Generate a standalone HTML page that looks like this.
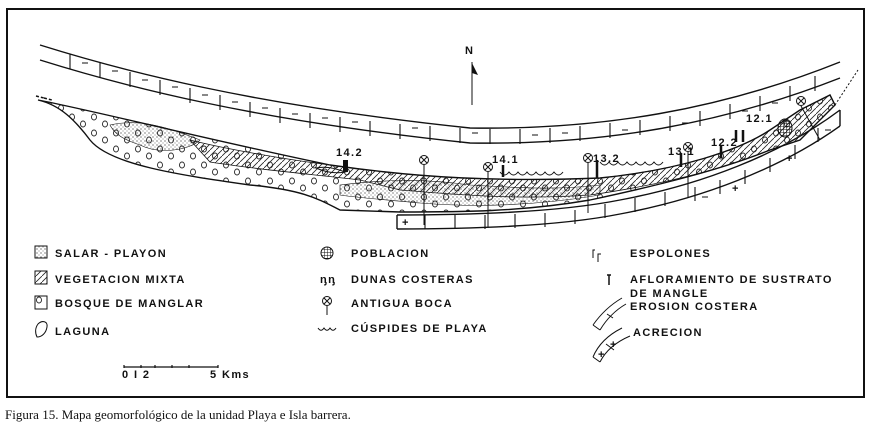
<!DOCTYPE html>
<html><head><meta charset="utf-8"><style>
html,body{margin:0;padding:0;background:#fff;width:871px;height:429px;overflow:hidden}
svg{position:absolute;left:0;top:0}
.t{font-family:"Liberation Sans",sans-serif;font-weight:bold;font-size:11px;letter-spacing:1.4px;fill:#111}
.c{font-family:"Liberation Serif",serif;font-size:13px;fill:#111}
</style></head><body>
<svg width="871" height="429" viewBox="0 0 871 429">
<defs>
<pattern id="hatch" width="6" height="6" patternUnits="userSpaceOnUse"><path d="M0 6L6 0" stroke="#222" stroke-width="0.8"/></pattern>
<pattern id="dots" width="4" height="4" patternUnits="userSpaceOnUse"><circle cx="1" cy="1" r="0.6" fill="#333"/><circle cx="3" cy="3" r="0.5" fill="#555"/></pattern>
<pattern id="circ" width="22" height="16" patternUnits="userSpaceOnUse"><ellipse cx="6" cy="5" rx="2.5" ry="3" fill="none" stroke="#222" stroke-width="0.9"/><ellipse cx="17" cy="12" rx="2.5" ry="3" fill="none" stroke="#222" stroke-width="0.9"/></pattern>
<pattern id="grid" width="3" height="3" patternUnits="userSpaceOnUse"><path d="M0 0H3M0 0V3" stroke="#111" stroke-width="1"/></pattern>
</defs>
<rect x="7" y="9" width="857" height="388" fill="none" stroke="#111" stroke-width="2"/>
<text x="465" y="54" class="t" font-size="12" letter-spacing="0">N</text>
<line x1="472" y1="62" x2="472" y2="105" stroke="#111" stroke-width="1"/>
<path d="M472 63L478 75L472 73Z" fill="#111"/>
<g fill="none" stroke="#111" stroke-width="1.4">
<path d="M40 45 C120 70 250 105 470 128 C600 130 720 110 840 62"/>
<path d="M40 60 C120 85 250 120 470 143 C600 145 720 125 840 78"/>
</g>
<g stroke="#111" stroke-width="1.1">
<path d="M70 54v15M100 63v15M130 72v15M160 80v15M190 88v15M220 95v15M250 102v15M280 108v15M310 113v15M340 117v15M370 121v15M400 124v15M430 126v15M460 128v15M490 129v15M520 129v15M550 128v15M580 126v15M610 123v15M640 120v15M670 116v15M700 111v15M730 104v15M760 96v15M790 86v15M815 76v15"/>
<path d="M82 63h6M112 71h6M142 80h6M172 87h6M202 95h6M232 102h6M262 108h6M292 114h6M322 118h6M352 122h6M412 128h6M472 133h6M532 135h6M562 133h6M622 130h6M682 123h6M742 111h6M772 103h6"/>
</g>
<g fill="none" stroke="#111" stroke-width="1.4">
<path d="M397 215 C470 215 560 212 620 200 C700 185 780 155 840 110"/>
<path d="M397 229 C470 229 560 226 620 214 C700 199 780 169 840 126"/>
<path d="M397 215v14M840 110v16"/>
</g>
<g stroke="#111" stroke-width="1.1">
<path d="M425 215v14M455 215v14M485 215v14M515 214v14M545 213v14M575 210v14M605 204v14M635 198v14M665 192v14M695 187v14M720 180v14M745 170v14M770 158v14M795 145v14M818 128v14"/>
</g>
<text x="402" y="226" class="t" font-size="10">+</text>
<text x="732" y="192" class="t" font-size="10">+</text>
<text x="786" y="162" class="t" font-size="10">+</text>
<path d="M702 197h6M825 130h6" stroke="#111"/>
<path d="M38 100 C100 112 200 138 330 165 C420 178 500 182 600 178 C680 170 740 150 770 130 L800 110 L830 95 L835 105 L800 140 L770 150 C720 170 660 185 590 200 C520 212 460 212 400 212 L340 210 C320 200 305 190 250 185 C180 175 110 165 90 140 C75 120 60 105 38 100Z" fill="url(#circ)" stroke="#111" stroke-width="1.4"/>
<path d="M190 140 C230 150 290 160 330 165 C420 178 500 182 600 178 C680 170 740 150 770 130 L800 110 L830 95 L835 105 L800 140 L770 150 C720 170 660 185 590 195 C520 200 460 195 400 190 L360 180 C320 175 260 170 210 162Z" fill="url(#hatch)" stroke="#111" stroke-width="0.8"/>
<path d="M340 185 C380 180 420 178 470 185 C520 188 560 190 600 185 L600 195 C540 205 480 208 420 203 C390 200 360 198 340 195Z" fill="url(#dots)" stroke="#111" stroke-width="0.6"/>
<path d="M110 125 C140 118 170 128 200 140 C190 150 160 155 140 145 C125 140 115 135 110 125Z" fill="url(#dots)" stroke="#111" stroke-width="0.6"/>
<path d="M36 96l8 2M44 98l8 2" stroke="#111" stroke-width="1.5" stroke-dasharray="3 2"/>
<path d="M835 105 L858 70" stroke="#111" stroke-dasharray="2 2"/>
<ellipse cx="785" cy="128" rx="7" ry="9" fill="url(#grid)" stroke="#111"/>
<path d="M316 168 C325 172 335 174 345 172 C335 168 325 166 316 168Z" fill="none" stroke="#111"/>
<rect x="343" y="160" width="5" height="12" fill="#111"/>
<g fill="none" stroke="#111" stroke-width="1">
<circle cx="424" cy="160" r="4.5"/><path d="M421 157l6 6M427 157l-6 6M424 165v60"/>
<circle cx="488" cy="167" r="4.5"/><path d="M485 164l6 6M491 164l-6 6M488 172v55"/>
<circle cx="588" cy="158" r="4.5"/><path d="M585 155l6 6M591 155l-6 6M588 163v50"/>
<circle cx="688" cy="147" r="4.5"/><path d="M685 144l6 6M691 144l-6 6M688 152v45"/>
<circle cx="801" cy="101" r="4.5"/><path d="M798 98l6 6M804 98l-6 6M801 106 L820 140"/>
<path d="M500 172 c3 4 6 4 9 0 c3 4 6 4 9 0 c3 4 6 4 9 0 c3 4 6 4 9 0 c3 4 6 4 9 0 c3 4 6 4 9 0 c3 4 6 4 9 0"/>
<path d="M600 162 c3 4 6 4 9 0 c3 4 6 4 9 0 c3 4 6 4 9 0 c3 4 6 4 9 0 c3 4 6 4 9 0 c3 4 6 4 9 0 c3 4 6 4 9 0"/>
</g>
<g stroke="#111" stroke-width="2.5"><path d="M503 165v12M597 160v18M681 153v14M721 145v13M736 130v12M743 130v12"/></g>
<text x="336" y="156" class="t" font-size="9" letter-spacing="0">14.2</text>
<text x="492" y="163" class="t" font-size="9" letter-spacing="0">14.1</text>
<text x="593" y="162" class="t" font-size="9" letter-spacing="0">13.2</text>
<text x="668" y="155" class="t" font-size="9" letter-spacing="0">13.1</text>
<text x="711" y="146" class="t" font-size="9" letter-spacing="0">12.2</text>
<text x="746" y="122" class="t" font-size="9" letter-spacing="0">12.1</text>
<rect x="35" y="246" width="12" height="12" fill="url(#dots)" stroke="#111"/>
<text x="55" y="257" class="t">SALAR - PLAYON</text>
<rect x="35" y="271" width="12" height="13" fill="url(#hatch)" stroke="#111"/>
<text x="55" y="283" class="t">VEGETACION MIXTA</text>
<rect x="35" y="296" width="12" height="13" fill="url(#circ)" stroke="#111"/>
<text x="55" y="307" class="t">BOSQUE DE MANGLAR</text>
<path d="M38 324 C42 320 48 321 47 327 C46 333 42 337 37 337 C35 333 35 328 38 324Z" fill="none" stroke="#111"/>
<text x="55" y="335" class="t">LAGUNA</text>
<circle cx="327" cy="253" r="6" fill="url(#grid)" stroke="#111"/>
<text x="351" y="257" class="t">POBLACION</text>
<text x="320" y="283" class="t" font-size="8" letter-spacing="0">ᶇᶇ</text>
<text x="351" y="283" class="t">DUNAS COSTERAS</text>
<circle cx="327" cy="301" r="4.5" fill="none" stroke="#111"/><path d="M324 298l6 6M330 298l-6 6M327 306v9" stroke="#111" fill="none"/>
<text x="351" y="307" class="t">ANTIGUA BOCA</text>
<path d="M318 328 c2 3 4 3 6 0 c2 3 4 3 6 0 c2 3 4 3 6 0" fill="none" stroke="#111"/>
<text x="351" y="332" class="t">CÚSPIDES DE PLAYA</text>
<path d="M593 258v-8h2M598 262v-8h3" fill="none" stroke="#111"/>
<text x="630" y="257" class="t" letter-spacing="1">ESPOLONES</text>
<path d="M607 275h4M609 275v10" stroke="#111" stroke-width="1.5"/>
<text x="630" y="283" class="t" letter-spacing="1">AFLORAMIENTO DE SUSTRATO</text>
<text x="630" y="297" class="t" letter-spacing="1">DE MANGLE</text>
<path d="M593 325 C600 315 610 305 622 298 M600 330 C606 320 614 311 626 304 M593 325 L600 330 M607 314 L613 318" fill="none" stroke="#111"/>
<text x="630" y="310" class="t" letter-spacing="1">EROSION COSTERA</text>
<path d="M593 357 C598 345 608 335 622 328 M600 362 C606 350 616 342 630 336 M593 357 L600 362 M606 344 L614 350" fill="none" stroke="#111"/>
<text x="598" y="358" class="t" font-size="8">+</text><text x="610" y="348" class="t" font-size="8">+</text>
<text x="633" y="336" class="t" letter-spacing="1">ACRECION</text>
<path d="M124 367H218M124 365v3M141 365v3M155 365v3M172 365v3M189 365v3M218 365v3" stroke="#111" stroke-width="1.2"/>
<text x="122" y="378" class="t" font-size="10">0 I 2</text>
<text x="210" y="378" class="t" font-size="10" letter-spacing="0">5 Kms</text>
<text x="5" y="419" class="c">Figura 15. Mapa geomorfológico de la unidad Playa e Isla barrera.</text>
</svg>
</body></html>
